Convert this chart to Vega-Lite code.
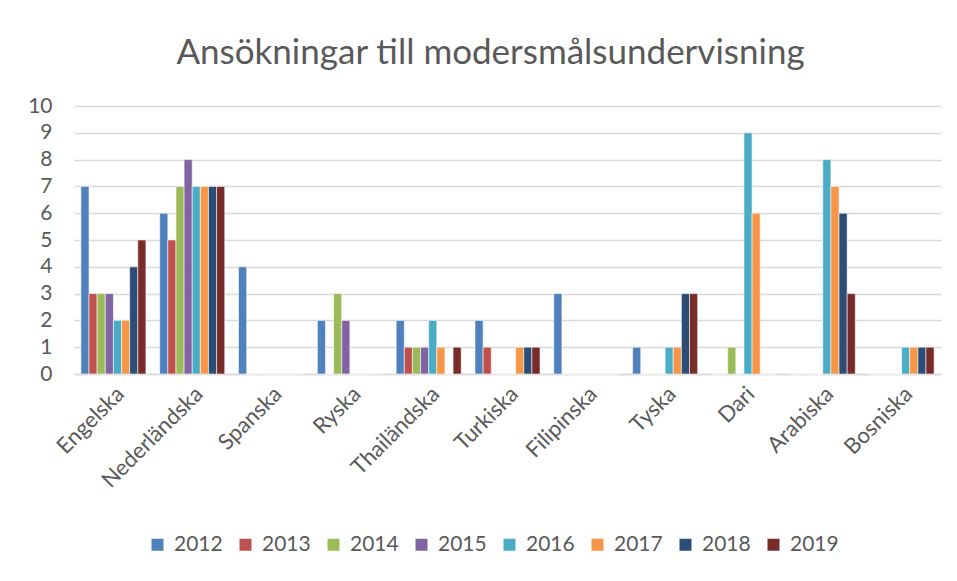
{
  "$schema": "https://vega.github.io/schema/vega-lite/v6.json",
  "width": 867,
  "height": 268,
  "autosize": "none",
  "padding": {"left": 74, "top": 106, "right": 16, "bottom": 207},
  "background": "white",
  "title": {
    "text": "Ansökningar till modersmålsundervisning",
    "font": "Lato",
    "fontSize": 35,
    "fontWeight": "normal",
    "color": "#595959",
    "anchor": "middle",
    "dx": -17,
    "offset": 24
  },
  "config": {
    "view": {"stroke": null},
    "font": "Lato"
  },
  "data": {
    "values": [
      {"lang": "Engelska", "year": "2012", "value": 7},
      {"lang": "Engelska", "year": "2013", "value": 3},
      {"lang": "Engelska", "year": "2014", "value": 3},
      {"lang": "Engelska", "year": "2015", "value": 3},
      {"lang": "Engelska", "year": "2016", "value": 2},
      {"lang": "Engelska", "year": "2017", "value": 2},
      {"lang": "Engelska", "year": "2018", "value": 4},
      {"lang": "Engelska", "year": "2019", "value": 5},
      {"lang": "Nederländska", "year": "2012", "value": 6},
      {"lang": "Nederländska", "year": "2013", "value": 5},
      {"lang": "Nederländska", "year": "2014", "value": 7},
      {"lang": "Nederländska", "year": "2015", "value": 8},
      {"lang": "Nederländska", "year": "2016", "value": 7},
      {"lang": "Nederländska", "year": "2017", "value": 7},
      {"lang": "Nederländska", "year": "2018", "value": 7},
      {"lang": "Nederländska", "year": "2019", "value": 7},
      {"lang": "Spanska", "year": "2012", "value": 4},
      {"lang": "Spanska", "year": "2013", "value": 0},
      {"lang": "Spanska", "year": "2014", "value": 0},
      {"lang": "Spanska", "year": "2015", "value": 0},
      {"lang": "Spanska", "year": "2016", "value": 0},
      {"lang": "Spanska", "year": "2017", "value": 0},
      {"lang": "Spanska", "year": "2018", "value": 0},
      {"lang": "Spanska", "year": "2019", "value": 0},
      {"lang": "Ryska", "year": "2012", "value": 2},
      {"lang": "Ryska", "year": "2013", "value": 0},
      {"lang": "Ryska", "year": "2014", "value": 3},
      {"lang": "Ryska", "year": "2015", "value": 2},
      {"lang": "Ryska", "year": "2016", "value": 0},
      {"lang": "Ryska", "year": "2017", "value": 0},
      {"lang": "Ryska", "year": "2018", "value": 0},
      {"lang": "Ryska", "year": "2019", "value": 0},
      {"lang": "Thailändska", "year": "2012", "value": 2},
      {"lang": "Thailändska", "year": "2013", "value": 1},
      {"lang": "Thailändska", "year": "2014", "value": 1},
      {"lang": "Thailändska", "year": "2015", "value": 1},
      {"lang": "Thailändska", "year": "2016", "value": 2},
      {"lang": "Thailändska", "year": "2017", "value": 1},
      {"lang": "Thailändska", "year": "2018", "value": 0},
      {"lang": "Thailändska", "year": "2019", "value": 1},
      {"lang": "Turkiska", "year": "2012", "value": 2},
      {"lang": "Turkiska", "year": "2013", "value": 1},
      {"lang": "Turkiska", "year": "2014", "value": 0},
      {"lang": "Turkiska", "year": "2015", "value": 0},
      {"lang": "Turkiska", "year": "2016", "value": 0},
      {"lang": "Turkiska", "year": "2017", "value": 1},
      {"lang": "Turkiska", "year": "2018", "value": 1},
      {"lang": "Turkiska", "year": "2019", "value": 1},
      {"lang": "Filipinska", "year": "2012", "value": 3},
      {"lang": "Filipinska", "year": "2013", "value": 0},
      {"lang": "Filipinska", "year": "2014", "value": 0},
      {"lang": "Filipinska", "year": "2015", "value": 0},
      {"lang": "Filipinska", "year": "2016", "value": 0},
      {"lang": "Filipinska", "year": "2017", "value": 0},
      {"lang": "Filipinska", "year": "2018", "value": 0},
      {"lang": "Filipinska", "year": "2019", "value": 0},
      {"lang": "Tyska", "year": "2012", "value": 1},
      {"lang": "Tyska", "year": "2013", "value": 0},
      {"lang": "Tyska", "year": "2014", "value": 0},
      {"lang": "Tyska", "year": "2015", "value": 0},
      {"lang": "Tyska", "year": "2016", "value": 1},
      {"lang": "Tyska", "year": "2017", "value": 1},
      {"lang": "Tyska", "year": "2018", "value": 3},
      {"lang": "Tyska", "year": "2019", "value": 3},
      {"lang": "Dari", "year": "2012", "value": 0},
      {"lang": "Dari", "year": "2013", "value": 0},
      {"lang": "Dari", "year": "2014", "value": 1},
      {"lang": "Dari", "year": "2015", "value": 0},
      {"lang": "Dari", "year": "2016", "value": 9},
      {"lang": "Dari", "year": "2017", "value": 6},
      {"lang": "Dari", "year": "2018", "value": 0},
      {"lang": "Dari", "year": "2019", "value": 0},
      {"lang": "Arabiska", "year": "2012", "value": 0},
      {"lang": "Arabiska", "year": "2013", "value": 0},
      {"lang": "Arabiska", "year": "2014", "value": 0},
      {"lang": "Arabiska", "year": "2015", "value": 0},
      {"lang": "Arabiska", "year": "2016", "value": 8},
      {"lang": "Arabiska", "year": "2017", "value": 7},
      {"lang": "Arabiska", "year": "2018", "value": 6},
      {"lang": "Arabiska", "year": "2019", "value": 3},
      {"lang": "Bosniska", "year": "2012", "value": 0},
      {"lang": "Bosniska", "year": "2013", "value": 0},
      {"lang": "Bosniska", "year": "2014", "value": 0},
      {"lang": "Bosniska", "year": "2015", "value": 0},
      {"lang": "Bosniska", "year": "2016", "value": 1},
      {"lang": "Bosniska", "year": "2017", "value": 1},
      {"lang": "Bosniska", "year": "2018", "value": 1},
      {"lang": "Bosniska", "year": "2019", "value": 1}
    ]
  },
  "mark": {"type": "bar", "stroke": "white", "strokeWidth": 0.8, "strokeOpacity": 0.7},
  "encoding": {
    "x": {
      "field": "lang",
      "type": "nominal",
      "sort": null,
      "scale": {"paddingInner": 0.175, "paddingOuter": 0.0875},
      "axis": {
        "title": null,
        "labelAngle": -45,
        "labelFontSize": 22,
        "labelColor": "#595959",
        "labelFont": "Lato",
        "ticks": false,
        "domainColor": "#d9d9d9",
        "domainWidth": 1.5,
        "labelPadding": 9,
        "labelLimit": 250
      }
    },
    "xOffset": {"field": "year", "type": "nominal", "scale": {"paddingInner": 0}},
    "y": {
      "field": "value",
      "type": "quantitative",
      "scale": {"domain": [0, 10], "nice": false},
      "axis": {
        "title": null,
        "values": [0, 1, 2, 3, 4, 5, 6, 7, 8, 9, 10],
        "labelFontSize": 21,
        "labelColor": "#595959",
        "labelFont": "Lato",
        "labelPadding": 22,
        "ticks": false,
        "domain": false,
        "gridColor": "#d9d9d9",
        "gridWidth": 1.5
      }
    },
    "color": {
      "field": "year",
      "type": "nominal",
      "scale": {
        "range": ["#4f81bd", "#c0504d", "#9bbb59", "#8064a2", "#4bacc6", "#f79646", "#2c4d75", "#772c2a"]
      },
      "legend": {
        "title": null,
        "orient": "none",
        "direction": "horizontal",
        "legendX": 73,
        "legendY": 428,
        "symbolType": "square",
        "symbolSize": 144,
        "symbolStrokeWidth": 0,
        "symbolOpacity": 1,
        "labelFontSize": 21,
        "labelColor": "#595959",
        "labelFont": "Lato",
        "labelOffset": 6,
        "columnPadding": 12
      }
    }
  }
}
